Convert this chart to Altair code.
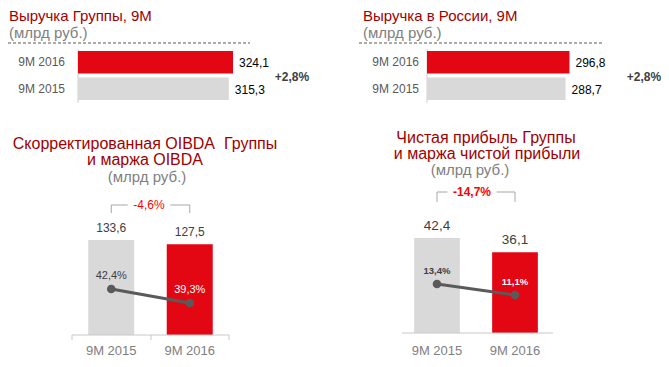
import altair as alt
import pandas as pd

# ---------------- data ----------------
top_periods = ["9M 2016", "9M 2015"]
group_revenue = [324.1, 315.3]
group_revenue_labels = ["324,1", "315,3"]
russia_revenue = [296.8, 288.7]
russia_revenue_labels = ["296,8", "288,7"]
revenue_change_label = "+2,8%"

bottom_periods = ["9M 2015", "9M 2016"]
oibda = [133.6, 127.5]
oibda_labels = ["133,6", "127,5"]
oibda_margin = [42.4, 39.3]
oibda_margin_labels = ["42,4%", "39,3%"]
oibda_change_label = "-4,6%"

net_profit = [42.4, 36.1]
net_profit_labels = ["42,4", "36,1"]
net_margin = [13.4, 11.1]
net_margin_labels = ["13,4%", "11,1%"]
net_change_label = "-14,7%"

title_group_revenue = "Выручка Группы, 9M"
title_russia_revenue = "Выручка в России, 9M"
title_oibda = ["Скорректированная OIBDA\u00a0 Группы", "и маржа OIBDA"]
title_net = ["Чистая прибыль Группы", "и маржа чистой прибыли"]
unit_label = "(млрд руб.)"

# ---------------- styles ----------------
RED = "#E30613"
GRAY_BAR = "#D9D9D9"
TITLE = "#A00000"
SUB = "#808080"
DARK = "#404040"
LINE = "#5A5A5A"

color_scale = alt.Scale(domain=top_periods, range=[RED, GRAY_BAR])


def text_at(text, x, y, size=15, color=TITLE, align="left", weight="normal",
            baseline="alphabetic", **kw):
    return alt.Chart(pd.DataFrame({"t": [text]})).mark_text(
        align=align, baseline=baseline, fontSize=size, color=color,
        fontWeight=weight, **kw
    ).encode(x=alt.value(x), y=alt.value(y), text="t:N")


def hrule(x1, x2, y, color="#595959", dash=None):
    kw = {"strokeDash": dash} if dash else {}
    return alt.Chart(pd.DataFrame({"a": [0]})).mark_rule(color=color, strokeWidth=1, **kw).encode(
        x=alt.value(x1), x2=alt.value(x2), y=alt.value(y))


def vrule(x, y1, y2, color="#D0D0D0"):
    return alt.Chart(pd.DataFrame({"a": [0]})).mark_rule(color=color, strokeWidth=1).encode(
        x=alt.value(x), y=alt.value(y1), y2=alt.value(y2))


def hbar_panel(values, labels, x0, x1, cat_x):
    df = pd.DataFrame({"period": top_periods, "value": values, "label": labels})
    xs = alt.X("value:Q", axis=None, scale=alt.Scale(domain=[0, 350], range=[x0, x1]))
    ys = alt.Y("period:N", axis=None, sort=top_periods,
               scale=alt.Scale(domain=top_periods, range=[43, 92], paddingInner=0.15, paddingOuter=0))
    base = alt.Chart(df)
    bars = base.mark_bar().encode(
        x=xs, y=ys, color=alt.Color("period:N", scale=color_scale, legend=None))
    vals = base.mark_text(align="left", baseline="middle", dx=6, dy=1, fontSize=12,
                          color="#000000").encode(x=xs, y=ys, text="label:N")
    cats = base.mark_text(align="right", baseline="middle", fontSize=12,
                          color="#595959").encode(x=alt.value(cat_x), y=ys, text="period:N")
    return alt.layer(bars, vals, cats)


def vbar_panel(values, labels, margins, mlabels, xrange, ydom, yrange, mdom, mrange,
               val_size, mlab_size, mlab_weight, bracket_y, bracket_y2, change_label,
               change_x, change_weight, axis_y, axis_x1, axis_x2, ticks):
    df = pd.DataFrame({"period": bottom_periods, "value": values, "label": labels,
                       "margin": margins, "mlabel": mlabels})
    xs = alt.X("period:N", axis=None, sort=bottom_periods,
               scale=alt.Scale(domain=bottom_periods, range=xrange,
                               paddingInner=0.414, paddingOuter=0.207))
    ys = alt.Y("value:Q", axis=None, scale=alt.Scale(domain=ydom, range=yrange))
    ms = alt.Y("margin:Q", axis=None, scale=alt.Scale(domain=mdom, range=mrange))
    base = alt.Chart(df)

    bars = base.mark_bar().encode(
        x=xs, y=ys, color=alt.Color("period:N", scale=color_scale, legend=None))
    vals = base.mark_text(align="center", baseline="alphabetic", dy=-8, fontSize=val_size,
                          color=DARK).encode(x=xs, y=ys, text="label:N")
    xlabels = base.mark_text(align="center", baseline="alphabetic", fontSize=13,
                             color=SUB).encode(x=xs, y=alt.value(346.5), text="period:N")
    br_ticks = base.mark_rule(color="#A6A6A6", strokeWidth=1).encode(
        x=xs, y=alt.value(bracket_y), y2=alt.value(bracket_y2))
    br_line = base.mark_line(color="#A6A6A6", strokeWidth=1).encode(
        x=xs, y=alt.value(bracket_y))

    layers = [bars, vals, xlabels, br_line, br_ticks,
              text_at(change_label, change_x, bracket_y, size=12, color="#FFFFFF",
                      align="center", baseline="middle", weight=change_weight,
                      stroke="#FFFFFF", strokeWidth=12, strokeJoin="round"),
              text_at(change_label, change_x, bracket_y, size=12, color="#FF0000",
                      align="center", baseline="middle", weight=change_weight),
              hrule(axis_x1, axis_x2, axis_y, color="#C8C8C8")]
    for tx in ticks:
        layers.append(vrule(tx, axis_y, axis_y + 5, color="#C8C8C8"))
    bar_layer = alt.layer(*layers)

    line = base.mark_line(color=LINE, strokeWidth=3).encode(x=xs, y=ms)
    pts = base.mark_circle(size=75, color=LINE, opacity=1).encode(x=xs, y=ms)
    mtext = base.mark_text(align="center", baseline="alphabetic", dy=-10, fontSize=mlab_size,
                           fontWeight=mlab_weight).encode(
        x=xs, y=ms, text="mlabel:N",
        color=alt.condition(alt.datum.period == "9M 2016", alt.value("#FFFFFF"), alt.value(DARK)))
    margin_layer = alt.layer(line, pts, mtext)
    return alt.layer(bar_layer, margin_layer).resolve_scale(y="independent")


layers = [
    # top-left
    text_at(title_group_revenue, 1, 12.5),
    text_at(unit_label, 1, 30, color=SUB),
    hrule(0, 242, 35, dash=[3, 2]),
    vrule(70, 41, 95),
    hbar_panel(group_revenue, group_revenue_labels, 70, 237.4, 57),
    text_at(revenue_change_label, 284, 69, size=12, color=DARK, align="center",
            baseline="middle", weight="bold"),
    # top-right
    text_at(title_russia_revenue, 355, 12.5),
    text_at(unit_label, 355, 30, color=SUB),
    hrule(351, 595, 35, dash=[3, 2]),
    vrule(419, 41, 95),
    hbar_panel(russia_revenue, russia_revenue_labels, 419, 587, 411),
    text_at(revenue_change_label, 636, 69, size=12, color=DARK, align="center",
            baseline="middle", weight="bold"),
    # bottom-left
    text_at(title_oibda[0], 137, 141, size=16, align="center"),
    text_at(title_oibda[1], 137, 157, size=16, align="center"),
    text_at(unit_label, 139, 174, color=SUB, align="center"),
    vbar_panel(oibda, oibda_labels, oibda_margin, oibda_margin_labels,
               xrange=[64, 221], ydom=[0, 150], yrange=[327, 220.2],
               mdom=[30, 60], mrange=[337, 201.5], val_size=12, mlab_size=11,
               mlab_weight="normal", bracket_y=197, bracket_y2=205,
               change_label=oibda_change_label, change_x=141, change_weight="normal",
               axis_y=327, axis_x1=64, axis_x2=221, ticks=[64, 143, 221]),
    # bottom-right
    text_at(title_net[0], 478, 135, size=16, align="center"),
    text_at(title_net[1], 479, 150.5, size=16, align="center"),
    text_at(unit_label, 462, 167, color=SUB, align="center"),
    vbar_panel(net_profit, net_profit_labels, net_margin, net_margin_labels,
               xrange=[390, 546], ydom=[0, 50], yrange=[325, 213.0],
               mdom=[0, 20], mrange=[340.1, 244.4], val_size=13.5, mlab_size=9.5,
               mlab_weight="bold", bracket_y=184, bracket_y2=194,
               change_label=net_change_label, change_x=464, change_weight="bold",
               axis_y=325, axis_x1=394, axis_x2=545, ticks=[]),
]

chart = (
    alt.layer(*layers)
    .resolve_scale(x="independent", y="independent")
    .properties(width=653, height=351, padding=0,
                autosize=alt.AutoSizeParams(type="none"))
    .configure(font="Liberation Sans")
    .configure_view(stroke=None)
)

chart.save("out.html", embed_options={"renderer": "svg", "actions": False})
